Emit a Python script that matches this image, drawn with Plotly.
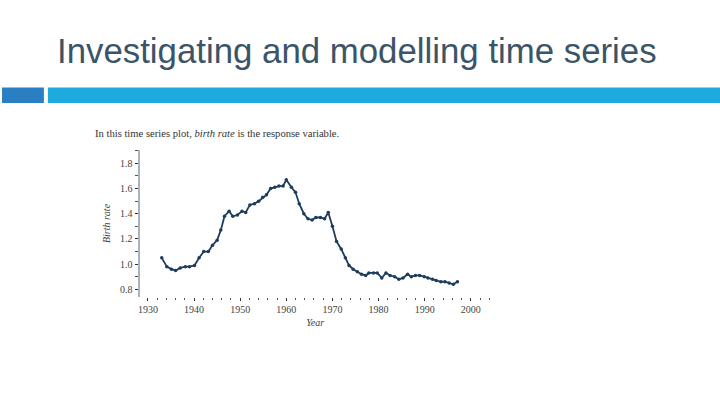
import plotly.graph_objects as go

# Data
years = [1933.0, 1934.1, 1935.1, 1936.0, 1937.0, 1938.1, 1939.0, 1940.1, 1941.1, 1942.1,
         1943.1, 1944.0, 1945.0, 1945.8, 1946.6, 1947.6, 1948.4, 1949.4, 1950.4, 1951.2,
         1952.1, 1953.1, 1954.0, 1954.9, 1955.7, 1956.6, 1957.5, 1958.4, 1959.3, 1960.0,
         1961.1, 1962.0, 1962.8, 1963.8, 1964.7, 1965.6, 1966.4, 1967.4, 1968.3, 1969.1,
         1970.0, 1970.9, 1971.9, 1972.8, 1973.6, 1974.5, 1975.4, 1976.3, 1977.2, 1977.9,
         1978.9, 1979.7, 1980.7, 1981.6, 1982.5, 1983.5, 1984.4, 1985.3, 1986.3, 1987.1,
         1988.0, 1988.9, 1989.9, 1990.7, 1991.7, 1992.5, 1993.5, 1994.4, 1995.3, 1996.2,
         1997.1]
birth_rate = [1.05, 0.98, 0.96, 0.95, 0.97, 0.98, 0.98, 0.99, 1.05, 1.10,
              1.10, 1.15, 1.19, 1.27, 1.38, 1.42, 1.38, 1.39, 1.42, 1.41,
              1.47, 1.48, 1.50, 1.53, 1.55, 1.60, 1.61, 1.62, 1.62, 1.67,
              1.61, 1.57, 1.48, 1.40, 1.36, 1.35, 1.37, 1.37, 1.36, 1.41,
              1.30, 1.18, 1.12, 1.05, 0.99, 0.96, 0.94, 0.92, 0.91, 0.93,
              0.93, 0.93, 0.89, 0.93, 0.91, 0.90, 0.88, 0.89, 0.92, 0.90,
              0.91, 0.91, 0.90, 0.89, 0.88, 0.87, 0.86, 0.86, 0.85, 0.84,
              0.86]
x_ticks = [1930, 1940, 1950, 1960, 1970, 1980, 1990, 2000]
y_ticks = [0.8, 1.0, 1.2, 1.4, 1.6, 1.8]

title_text = "Investigating and modelling time series"
subtitle_text = "In this time series plot, <i>birth rate</i> is the response variable."

W, H = 720, 405
serif = "Liberation Serif, Times New Roman, serif"

fig = go.Figure()
fig.add_trace(go.Scatter(
    x=years, y=birth_rate, mode="lines+markers",
    line=dict(color="#1d3d5c", width=1.8),
    marker=dict(color="#1d3d5c", size=3.5),
    showlegend=False, hoverinfo="x+y",
))

fig.update_layout(
    width=W, height=H,
    margin=dict(l=0, r=0, t=0, b=0),
    paper_bgcolor="white", plot_bgcolor="white",
    xaxis=dict(
        domain=[138 / W, 490 / W],
        range=[1928.2, 2004.3],
        tickvals=x_ticks, ticktext=[str(t) for t in x_ticks],
        showgrid=False, zeroline=False, showline=False,
        ticks="outside", ticklen=3, tickwidth=1.2, tickcolor="#333",
        minor=dict(dtick=2, tick0=1930, ticks="outside", ticklen=2, tickwidth=1, tickcolor="#555"),
        tickfont=dict(family=serif, size=10, color="#444"),
        title=dict(text="<i>Year</i>", font=dict(family=serif, size=10, color="#444"), standoff=4),
        fixedrange=True,
    ),
    yaxis=dict(
        domain=[(H - 297) / H, (H - 150) / H],
        range=[0.739, 1.906],
        tickvals=y_ticks, ticktext=["%.1f" % v for v in y_ticks],
        showgrid=False, zeroline=False,
        showline=True, linecolor="#a9b4bf", linewidth=2,
        ticks="outside", ticklen=3, tickwidth=1.2, tickcolor="#333",
        minor=dict(dtick=0.1, tick0=0.8, ticks="outside", ticklen=3, tickwidth=1, tickcolor="#555"),
        tickfont=dict(family=serif, size=10, color="#444"),
        title=dict(text="<i>Birth rate</i>", font=dict(family=serif, size=10, color="#444"), standoff=8),
        fixedrange=True,
    ),
    shapes=[
        dict(type="rect", xref="paper", yref="paper",
             x0=0, x1=42 / W, y0=(H - 103) / H, y1=(H - 87.5) / H,
             fillcolor="#2a7fc3", line=dict(width=0), layer="below"),
        dict(type="rect", xref="paper", yref="paper",
             x0=46 / W, x1=1, y0=(H - 103) / H, y1=(H - 87.5) / H,
             fillcolor="#1faadf", line=dict(width=0), layer="below"),
    ],
    annotations=[
        dict(text=title_text, xref="paper", yref="paper",
             x=53 / W, y=(H - 50) / H, xanchor="left", yanchor="middle",
             showarrow=False,
             font=dict(family="Liberation Sans, Arial, sans-serif", size=34.8, color="#3b5468")),
        dict(text=subtitle_text, xref="paper", yref="paper",
             x=91 / W, y=(H - 134) / H, xanchor="left", yanchor="middle",
             showarrow=False,
             font=dict(family=serif, size=10.6, color="#333")),
    ],
)

fig.write_html(
    "out.html",
    config={"displayModeBar": False},
    post_script="document.body.style.margin='0';document.body.style.padding='0';document.body.style.overflow='hidden';",
)
